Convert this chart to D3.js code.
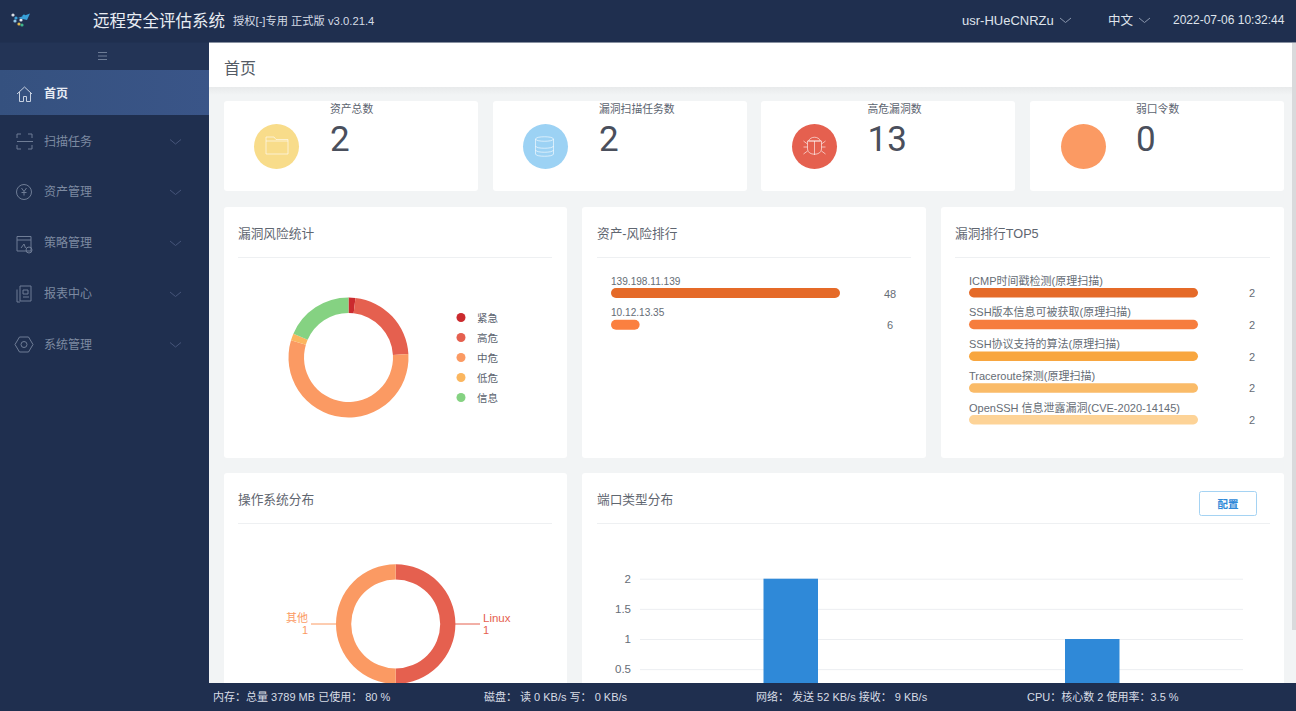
<!DOCTYPE html>
<html><head><meta charset="utf-8">
<script src="https://cdn.jsdelivr.net/npm/d3@7/dist/d3.min.js"></script>
<style>
html,body{margin:0;padding:0;background:#f2f4f5;overflow:hidden}
svg{display:block}
text{font-family:"Liberation Sans","Noto Sans CJK SC",sans-serif}
</style></head><body>
<svg id="c" width="1296" height="711"></svg>
<script>
const menuItems=["首页","扫描任务","资产管理","策略管理","报表中心","系统管理"];
const statLabels=["资产总数","漏洞扫描任务数","高危漏洞数","弱口令数"];
const statValues=[2,2,13,0];
const statColors=["#f8dc8a","#9cd2f4","#e5604f","#fb9a63"];
const riskLabels=["紧急","高危","中危","低危","信息"];
const riskValues=[1,12,30,1,10];
const riskColors=["#cb2a2e","#e5604f","#fb9a63","#fbb65f","#85d282"];
const assetLabels=["139.198.11.139","10.12.13.35"];
const assetValues=[48,6];
const assetColors=["#e56a28","#fb8040"];
const vulnLabels=["ICMP时间戳检测(原理扫描)","SSH版本信息可被获取(原理扫描)","SSH协议支持的算法(原理扫描)","Traceroute探测(原理扫描)","OpenSSH 信息泄露漏洞(CVE-2020-14145)"];
const vulnValues=[2,2,2,2,2];
const vulnColors=["#e56a28","#f67d3e","#f8a63f","#fabb68","#fdd397"];
const osLabels=["Linux","其他"];
const osValues=[1,1];
const osColors=["#e5604f","#fb9a63"];
const portCategories=["A","B"];
const portValues=[2,1];
const portTicks=[0.5,1,1.5,2];
const footerItems=["内存：总量 3789 MB 已使用： 80 %","磁盘： 读 0 KB/s 写： 0 KB/s","网络： 发送 52 KB/s 接收： 9 KB/s","CPU：核心数 2 使用率：3.5 %"];

const svg=d3.select("#c");
const navy="#1f2f4f";
function rect(g,x,y,w,h,f,r){return g.append("rect").attr("x",x).attr("y",y).attr("width",w).attr("height",h).attr("fill",f).attr("rx",r||0);}
function label(g,x,y,s,size,f,anchor,w){return g.append("text").attr("x",x).attr("y",y).attr("font-size",size).attr("fill",f).attr("text-anchor",anchor||"start").attr("font-weight",w||400).attr("dominant-baseline","central").text(s);}

// ---------- page frame
rect(svg,0,0,1296,711,"#f2f4f5");
rect(svg,209,43,1083,44,"#ffffff");
const shade=svg.append("defs").append("linearGradient").attr("id","sh").attr("x1",0).attr("x2",0).attr("y1",0).attr("y2",1);
shade.append("stop").attr("offset",0).attr("stop-color","#e8eaeb");
shade.append("stop").attr("offset",1).attr("stop-color","#f2f4f5");
rect(svg,209,87,1087,8,"url(#sh)");
label(svg,224,68,"首页",16,"#555c66");

// ---------- cards
const cards=svg.append("g");
[[224,101,254,90],[493,101,254,90],[761,101,254,90],[1030,101,254,90],
 [224,207,343,251],[582,207,344,251],[941,207,343,251],
 [224,473,343,240],[582,473,702,240]].forEach(c=>rect(cards,c[0],c[1],c[2],c[3],"#fff",3));
[[238,233.5,"漏洞风险统计",238,552],[597,233.5,"资产-风险排行",597,911],[955,233.5,"漏洞排行TOP5",955,1270],
 [238,499.5,"操作系统分布",238,552],[597,499.5,"端口类型分布",597,1270]].forEach(t=>{
  label(svg,t[0],t[1],t[2],12.7,"#5f6670");
  const ly=Math.round(t[1]+24)-.5;
  svg.append("line").attr("x1",t[3]).attr("x2",t[4]).attr("y1",ly).attr("y2",ly).attr("stroke","#eef0f2");
});

// ---------- stat cards
const statX=[276.5,545.5,814.5,1083.5], statTextX=[330,599,867.5,1136];
statLabels.forEach((s,i)=>{
  svg.append("circle").attr("cx",statX[i]).attr("cy",146.5).attr("r",22.5).attr("fill",statColors[i]);
  label(svg,statTextX[i],109,s,10.8,"#5c6470");
  label(svg,statTextX[i],139.5,statValues[i],35,"#4a4f5c").style("font-family","Roboto,'Liberation Sans'");
});
const ic=svg.append("g").attr("fill","none").attr("stroke","#fff").attr("stroke-opacity",.6).attr("stroke-width",1);
ic.append("path").attr("d","M266 137h8l2 2.5h12v14.5h-22z M266 141h22");
ic.append("path").attr("d","M535.500 139c0-3 18-3 18 0v15c0 3-18 3-18 0z M535.500 139c0 3 18 3 18 0 M535.500 146c0 3 18 3 18 0 M535.500 150c0 3 18 3 18 0");
ic.append("path").attr("d","M808.500 141c2-5 10-5 12 0z M807.500 141h14v8c0 7-14 7-14 0z M814.500 141v14 M803.500 141l4 3 M825.500 141l-4 3 M803.500 147h4 M825.500 147h-4 M803.500 154l4-3 M825.500 154l-4-3");

// ---------- risk donut
const pie=d3.pie().sort(null);
const riskArc=d3.arc().innerRadius(44.5).outerRadius(60);
const rg=svg.append("g").attr("transform","translate(348.5,357.5)");
rg.selectAll("path").data(pie(riskValues)).join("path").attr("d",riskArc).attr("fill",(d,i)=>riskColors[i]);
const legendY=d3.scalePoint().domain(riskLabels).range([317.5,397.5]);
riskLabels.forEach((s,i)=>{
  svg.append("circle").attr("cx",461).attr("cy",legendY(s)).attr("r",4.5).attr("fill",riskColors[i]);
  label(svg,477,legendY(s),s,10.5,"#5c6470");
});

// ---------- asset ranking
const assetX=d3.scaleLinear().domain([0,48]).range([0,229]);
const assetY=d3.scalePoint().domain(assetLabels).range([293,324.7]);
assetLabels.forEach((s,i)=>{
  const y=assetY(s);
  label(svg,611,y-12,s,10.1,"#666d76");
  rect(svg,611,y-5,assetX(assetValues[i]),10,assetColors[i],5);
  label(svg,890,y+.5,assetValues[i],11,"#666d76","middle");
});

// ---------- vuln ranking
const vulnX=d3.scaleLinear().domain([0,2]).range([0,229]);
const vulnY=d3.scalePoint().domain(vulnLabels).range([292.7,419.7]);
vulnLabels.forEach((s,i)=>{
  const y=vulnY(s);
  label(svg,969,y-12,s,11,"#666d76");
  rect(svg,969,y-4.7,vulnX(vulnValues[i]),9.4,vulnColors[i],4.7);
  label(svg,1252,y+.5,vulnValues[i],11,"#666d76","middle");
});

// ---------- OS donut
const osArc=d3.arc().innerRadius(44.5).outerRadius(59.7);
const og=svg.append("g").attr("transform","translate(395.7,624)");
og.selectAll("path").data(pie(osValues)).join("path").attr("d",osArc).attr("fill",(d,i)=>osColors[i]);
const osLine=d3.line();
svg.append("path").attr("d",osLine([[455,624],[480,624]])).attr("stroke",osColors[0]).attr("fill","none");
svg.append("path").attr("d",osLine([[311,624],[336,624]])).attr("stroke",osColors[1]).attr("fill","none");
label(svg,483,618,osLabels[0],11.5,osColors[0]);
label(svg,483,630,osValues[0],11,osColors[0]);
label(svg,308,618,osLabels[1],11,osColors[1],"end");
label(svg,308,630,osValues[1],11,osColors[1],"end");

// ---------- port bar chart
const bx=d3.scaleBand().domain(portCategories).range([640,1243]);
const by=d3.scaleLinear().domain([0,2]).range([699.3,578.7]);
const yAxis=d3.axisLeft(by).tickValues(portTicks).tickFormat(d3.format("~g")).tickSize(-603).tickPadding(9);
const ax=svg.append("g").attr("transform","translate(640,0)").call(yAxis);
ax.select(".domain").remove();
ax.selectAll("line").attr("stroke","#eceef1");
ax.selectAll("text").attr("font-size",11.5).attr("fill","#666d76");
const bw=54.5;
svg.selectAll("rect.bar").data(portValues).join("rect").attr("class","bar")
  .attr("x",(d,i)=>bx(portCategories[i])+bx.bandwidth()/2-bw/2).attr("width",bw)
  .attr("y",d=>by(d)).attr("height",d=>by(0)-by(d)).attr("fill","#2f89d8");
rect(svg,1199.5,491.5,57,24,"#fff",2).attr("stroke","#a5d3f3");
label(svg,1228,503.5,"配置",10.5,"#2f89d8","middle",700);

// ---------- sidebar + header + footer
rect(svg,0,42,209,669,navy);
rect(svg,0,42,209,28,"#233456");
svg.append("path").attr("d","M98 52.5h9M98 56h9M98 59.5h9").attr("stroke","#6e7d97").attr("fill","none");
rect(svg,0,0,1296,42.5,navy);
const grad=svg.select("defs").append("linearGradient").attr("id","act");
grad.append("stop").attr("offset",0).attr("stop-color","#35517f");
grad.append("stop").attr("offset",1).attr("stop-color","#3a5588");
rect(svg,0,70,209,45,"url(#act)");
const menuY=[93.5,141.5,192,243,294,344.5];
menuItems.forEach((s,i)=>{
  const on=i===0, y=menuY[i];
  label(svg,44,y,s,12,on?"#e6ebf3":"#7d8aa1","start",on?700:400);
  if(!on) svg.append("path").attr("d",`M170 ${y-2}l5.5 4.5l5.5-4.5`).attr("stroke","#46557a").attr("fill","none");
});
const mi=svg.append("g").attr("fill","none").attr("stroke","#6f7d96");
mi.append("path").attr("stroke","#c6d0e0").attr("d","M17 94l7.5-7l7.5 7M19.5 92v9.5h4v-5h3v5h4V92");
mi.append("path").attr("d","M17 138v-4h4M28 134h4v4M17 145v4h4M28 149h4v-4M17 141.5h16");
mi.append("circle").attr("cx",24).attr("cy",192).attr("r",7.5);
mi.append("path").attr("d","M21.5 188l2.5 3.5l2.5-3.5M24 191.500v4M21.500 192.500h5");
mi.append("path").attr("d","M17 236.500h14v14.500h-14zM17 240h14M21 248l3-4l1.500 4");
mi.append("circle").attr("cx",29).attr("cy",250).attr("r",3);
mi.append("path").attr("d","M20 286h11v15h-11zM17 289.500v12.500h3M23 290h5v4h-5zM23 297h6");
mi.append("circle").attr("cx",24).attr("cy",344.500).attr("r",3);
mi.append("path").attr("d","M19.500 337h9l4.500 7.500l-4.500 7.500h-9l-4.500-7.500z");
[[16,18,"#3aa0d8"],[21,20,"#e4e9f0"],[24,16,"#2fa8e0"],[13,15,"#d9dde4"],[19,24,"#e0b94f"],[22,25,"#3fb58a"],[15,21,"#8fc8e8"]].forEach(p=>
  svg.append("circle").attr("cx",p[0]).attr("cy",p[1]).attr("r",1.600).attr("fill",p[2]));
svg.append("path").attr("d","M18 18L30 13.500L27 20z").attr("fill","#3aa0d8");
label(svg,93,21,"远程安全评估系统",16.5,"#e9edf3");
label(svg,233,21,"授权[-]专用 正式版 v3.0.21.4",11.25,"#d5dbe5");
label(svg,962,20.5,"usr-HUeCNRZu",13,"#dfe4ec");
label(svg,1108,20.5,"中文",12.5,"#dfe4ec");
label(svg,1173,20,"2022-07-06 10:32:44",12,"#dfe4ec");
[1060,1139].forEach(a=>svg.append("path").attr("d",`M${a} 18l5.500 4.500l5.500-4.500`).attr("stroke","#8b97ad").attr("fill","none"));

rect(svg,1292,43,4,587,"#d9dadc");
rect(svg,0,683,1296,28,navy);
const footX=[213,484,756,1027];
footerItems.forEach((s,i)=>label(svg,footX[i],697,s,11,"#d7dce5"));
</script>
</body></html>
